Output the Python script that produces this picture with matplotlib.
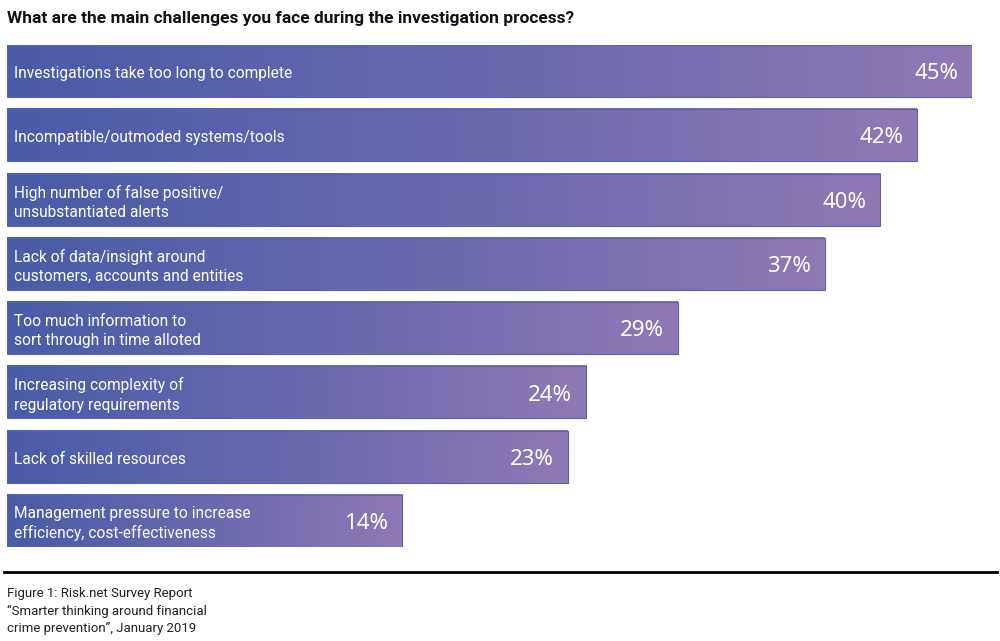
import numpy as np
import matplotlib.pyplot as plt
from matplotlib.colors import LinearSegmentedColormap

# survey answers, share of respondents (%)
labels = [
    "Investigations take too long to complete",
    "Incompatible/outmoded systems/tools",
    "High number of false positive/\nunsubstantiated alerts",
    "Lack of data/insight around\ncustomers, accounts and entities",
    "Too much information to\nsort through in time alloted",
    "Increasing complexity of\nregulatory requirements",
    "Lack of skilled resources",
    "Management pressure to increase\nefficiency, cost-effectiveness",
]
values = [45, 42, 40, 37, 29, 24, 23, 14]

title = "What are the main challenges you face during the investigation process?"
source = ("Figure 1: Risk.net Survey Report\n"
          "\u201cSmarter thinking around financial\n"
          "crime prevention\u201d, January 2019")

plt.rcParams["font.family"] = ["Noto Sans", "DejaVu Sans"]

cmap = LinearSegmentedColormap.from_list("grad", ["#4a5ba7", "#6a68ae", "#8f79b5"])
grad = np.linspace(0, 1, 256).reshape(1, -1)

fig = plt.figure(figsize=(10, 6.41), dpi=100)
ax = fig.add_axes([0.007, 0.1466, 0.965, 0.7832])

x0 = -7.5
h = 0.81
for i, (lab, v) in enumerate(zip(labels, values)):
    ax.imshow(grad, cmap=cmap, aspect="auto", interpolation="bicubic",
              extent=(x0, v, i + h / 2, i - h / 2), zorder=1)
    ax.add_patch(plt.Rectangle((x0, i - h / 2), v - x0, h, fill=False,
                               edgecolor="#5b62ad", linewidth=0.8, zorder=2))
    ax.text(x0 + 0.4, i + 0.04, lab, color="white", fontsize=11.2, va="center",
            ha="left", linespacing=1.35, zorder=3, family="Roboto")
    ax.text(v - 0.75, i + 0.04, f"{v}%", color="white", fontsize=16,
            va="center", ha="right", zorder=3)

ax.set_xlim(x0, 45)
ax.set_ylim(len(values) - 1 + h / 2, -h / 2)
ax.axis("off")

fig.text(0.007, 1 - 18 / 641, title, fontsize=12.5, fontweight="bold",
         va="center", ha="left", color="#111111", family="Roboto")
fig.add_artist(plt.Line2D([0.004, 0.997], [1 - 572 / 641] * 2, color="black",
                          linewidth=2))
fig.text(0.007, 1 - 587 / 641, source, fontsize=9.5, va="top", ha="left",
         color="#222222", linespacing=1.45, family="Roboto")

fig.savefig("out.png", dpi=100)
